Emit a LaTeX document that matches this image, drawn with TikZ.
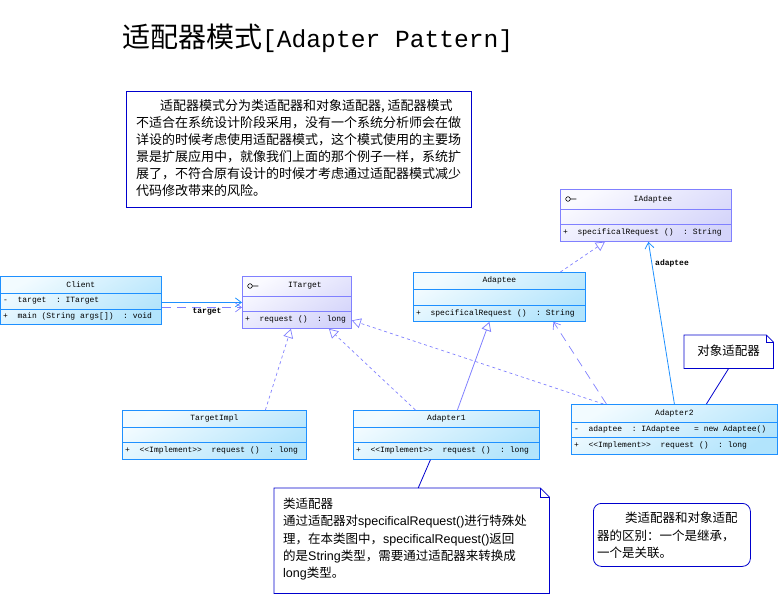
\documentclass[tikz,border=0pt]{standalone}
\usepackage{fontspec}
\setmainfont{Liberation Sans}
\setmonofont{Liberation Mono}
\newfontfamily\cjk{Noto Sans CJK SC}
\usetikzlibrary{arrows.meta}

\definecolor{clsblue}{RGB}{30,144,255}
\definecolor{clstop}{RGB}{242,251,255}
\definecolor{clsbot}{RGB}{178,228,252}
\definecolor{ifcline}{RGB}{128,128,255}
\definecolor{ifctop}{RGB}{250,250,255}
\definecolor{ifcbot}{RGB}{212,212,250}
\definecolor{noteblue}{RGB}{0,0,205}

\begin{document}
\begin{tikzpicture}[x=1pt,y=-1pt,
  clsbox/.style={draw=clsblue, line width=0.8pt, top color=clstop, bottom color=clsbot, shading angle=30, anchor=north west, inner sep=0pt},
  ifcbox/.style={draw=ifcline, line width=0.8pt, top color=ifctop, bottom color=ifcbot, shading angle=30, anchor=north west, inner sep=0pt},
  clssep/.style={draw=clsblue, line width=0.8pt},
  ifcsep/.style={draw=ifcline, line width=0.8pt},
  hdr/.style={font=\ttfamily\fontsize{8}{9}\selectfont, inner sep=0pt},
  memb/.style={font=\ttfamily\fontsize{8}{9}\selectfont, inner sep=0pt, anchor=west},
  role/.style={font=\ttfamily\bfseries\fontsize{8}{9}\selectfont, inner sep=0pt},
  notebox/.style={anchor=north west, inner sep=0pt},
  noteline/.style={draw=noteblue, line width=0.8pt},
  notetext/.style={font=\fontsize{12.5}{17.3}\selectfont, align=left, inner sep=0pt, anchor=north west},
  real/.style={draw=ifcline, line width=0.7pt, dash pattern=on 3pt off 3pt, -{Triangle[open, length=9pt, width=10pt]}},
  gener/.style={draw=ifcline, line width=0.8pt, -{Triangle[open, length=9pt, width=10pt]}},
  assoc/.style={draw=clsblue, line width=0.8pt, -{Straight Barb[length=6pt, width=9pt]}},
  depend/.style={draw=ifcline, line width=0.7pt, dash pattern=on 9pt off 6pt, -{Straight Barb[length=6pt, width=9pt]}},
  notelink/.style={draw=noteblue, line width=0.8pt}]
\useasboundingbox (0,0) rectangle (778,596);

% title
\node[anchor=west, inner sep=0pt] (title) at (122,38) {{\cjk\fontsize{28}{30}\selectfont 适配器模式}{\ttfamily\fontsize{24.6}{30}\selectfont[Adapter Pattern]}};

% top note
\node[notebox, draw=noteblue, line width=0.8pt, minimum width=345pt, minimum height=116pt] (topnote) at (126,91) {};
\node[notetext, font=\cjk\fontsize{13}{17}\selectfont] (topnote-t) at ([xshift=10pt,yshift=-8pt]topnote.north west)
  {\hspace*{24pt}适配器模式分为类适配器和对象适配器, 适配器模式\\
   不适合在系统设计阶段采用，没有一个系统分析师会在做\\
   详设的时候考虑使用适配器模式，这个模式使用的主要场\\
   景是扩展应用中，就像我们上面的那个例子一样，系统扩\\
   展了，不符合原有设计的时候才考虑通过适配器模式减少\\
   代码修改带来的风险。};

% Client
\node[clsbox, minimum width=161pt, minimum height=48pt] (client) at (0,276) {};
\draw[clssep] ([yshift=-17pt]client.north west) -- ([yshift=-17pt]client.north east);
\draw[clssep] ([yshift=-33pt]client.north west) -- ([yshift=-33pt]client.north east);
\node[hdr] (client-n) at ([yshift=-8.5pt]client.north) {Client};
\node[memb] (client-a) at ([xshift=3pt,yshift=-25pt]client.north west) {-~~target~~:~ITarget};
\node[memb] (client-o) at ([xshift=3pt,yshift=-40.5pt]client.north west) {+~~main~(String~args[])~~:~void};

% ITarget
\node[ifcbox, minimum width=109pt, minimum height=52pt] (itarget) at (242,276) {};
\draw[ifcsep] ([yshift=-20pt]itarget.north west) -- ([yshift=-20pt]itarget.north east);
\draw[ifcsep] ([yshift=-35pt]itarget.north west) -- ([yshift=-35pt]itarget.north east);
\draw[line width=0.6pt] ([xshift=8pt,yshift=-10pt]itarget.north west) circle (2.3pt) ++(2.3pt,0) -- ++(6pt,0);
\node[hdr] (itarget-n) at ([xshift=8pt,yshift=-10pt]itarget.north) {ITarget};
\node[memb] (itarget-o) at ([xshift=3pt,yshift=-43.5pt]itarget.north west) {+~~request~()~~:~long};

% IAdaptee
\node[ifcbox, minimum width=171pt, minimum height=52pt] (iadaptee) at (560,189) {};
\draw[ifcsep] ([yshift=-20pt]iadaptee.north west) -- ([yshift=-20pt]iadaptee.north east);
\draw[ifcsep] ([yshift=-35pt]iadaptee.north west) -- ([yshift=-35pt]iadaptee.north east);
\draw[line width=0.6pt] ([xshift=8pt,yshift=-10pt]iadaptee.north west) circle (2.3pt) ++(2.3pt,0) -- ++(6pt,0);
\node[hdr] (iadaptee-n) at ([xshift=7pt,yshift=-10pt]iadaptee.north) {IAdaptee};
\node[memb] (iadaptee-o) at ([xshift=3pt,yshift=-43.5pt]iadaptee.north west) {+~~specificalRequest~()~~:~String};

% Adaptee
\node[clsbox, minimum width=172pt, minimum height=49pt] (adaptee) at (413,272) {};
\draw[clssep] ([yshift=-17pt]adaptee.north west) -- ([yshift=-17pt]adaptee.north east);
\draw[clssep] ([yshift=-33pt]adaptee.north west) -- ([yshift=-33pt]adaptee.north east);
\node[hdr] (adaptee-n) at ([yshift=-8.5pt]adaptee.north) {Adaptee};
\node[memb] (adaptee-o) at ([xshift=3pt,yshift=-41pt]adaptee.north west) {+~~specificalRequest~()~~:~String};

% TargetImpl
\node[clsbox, minimum width=184pt, minimum height=49pt] (timpl) at (122,410) {};
\draw[clssep] ([yshift=-17pt]timpl.north west) -- ([yshift=-17pt]timpl.north east);
\draw[clssep] ([yshift=-32pt]timpl.north west) -- ([yshift=-32pt]timpl.north east);
\node[hdr] (timpl-n) at ([yshift=-8.5pt]timpl.north) {TargetImpl};
\node[memb] (timpl-o) at ([xshift=3pt,yshift=-40.5pt]timpl.north west) {+~~<<Implement>>~~request~()~~:~long};

% Adapter1
\node[clsbox, minimum width=186pt, minimum height=49pt] (adapter1) at (353,410) {};
\draw[clssep] ([yshift=-17pt]adapter1.north west) -- ([yshift=-17pt]adapter1.north east);
\draw[clssep] ([yshift=-32pt]adapter1.north west) -- ([yshift=-32pt]adapter1.north east);
\node[hdr] (adapter1-n) at ([yshift=-8.5pt]adapter1.north) {Adapter1};
\node[memb] (adapter1-o) at ([xshift=3pt,yshift=-40.5pt]adapter1.north west) {+~~<<Implement>>~~request~()~~:~long};

% Adapter2
\node[clsbox, minimum width=206pt, minimum height=50pt] (adapter2) at (571,404) {};
\draw[clssep] ([yshift=-18pt]adapter2.north west) -- ([yshift=-18pt]adapter2.north east);
\draw[clssep] ([yshift=-33pt]adapter2.north west) -- ([yshift=-33pt]adapter2.north east);
\node[hdr] (adapter2-n) at ([yshift=-9pt]adapter2.north) {Adapter2};
\node[memb] (adapter2-a) at ([xshift=3pt,yshift=-25.5pt]adapter2.north west) {-~~adaptee~~:~IAdaptee~~~=~new~Adaptee()};
\node[memb] (adapter2-o) at ([xshift=3pt,yshift=-41.5pt]adapter2.north west) {+~~<<Implement>>~~request~()~~:~long};

% notes
\node[notebox, minimum width=89pt, minimum height=33pt] (objnote) at (684,335) {};
\draw[noteline] (objnote.north west) -- ([xshift=-7pt]objnote.north east) -- ([yshift=-7pt]objnote.north east) -- (objnote.south east) -- (objnote.south west) -- cycle;
\draw[noteline, line width=0.5pt] ([xshift=-7pt]objnote.north east) -- ([xshift=-7pt,yshift=-7pt]objnote.north east) -- ([yshift=-7pt]objnote.north east);
\node[inner sep=0pt, font=\cjk\fontsize{12.5}{15}\selectfont] (objnote-t) at ([yshift=1pt]objnote.center) {对象适配器};

\node[notebox, minimum width=275pt, minimum height=105pt] (clsnote) at (274,488) {};
\draw[noteline] (clsnote.north west) -- ([xshift=-9pt]clsnote.north east) -- ([yshift=-9pt]clsnote.north east) -- (clsnote.south east) -- (clsnote.south west) -- cycle;
\draw[noteline, line width=0.5pt] ([xshift=-9pt]clsnote.north east) -- ([xshift=-9pt,yshift=-9pt]clsnote.north east) -- ([yshift=-9pt]clsnote.north east);
\node[notetext] (clsnote-t) at ([xshift=9pt,yshift=-10pt]clsnote.north west)
  {{\cjk 类适配器}\\
   {\cjk 通过适配器对}specificalRequest(){\cjk 进行特殊处}\\
   {\cjk 理，在本类图中，}specificalRequest(){\cjk 返回}\\
   {\cjk 的是}String{\cjk 类型，需要通过适配器来转换成}\\
   long{\cjk 类型。}};

\node[notebox, draw=noteblue, line width=0.8pt, rounded corners=8pt, minimum width=157pt, minimum height=63pt] (diffnote) at (593,503) {};
\node[notetext, font=\cjk\fontsize{12.5}{17.5}\selectfont] (diffnote-t) at ([xshift=4pt,yshift=-9pt]diffnote.north west)
  {\hspace*{28pt}类适配器和对象适配\\
   器的区别：一个是继承，\\
   一个是关联。};

% connectors
\draw[assoc] ([yshift=-2pt]client.east) -- (itarget.west);
\draw[depend] ([yshift=-7pt]client.east) -- ([yshift=-5pt]itarget.west);
\node[role] (target-l) at (207,312) {target};
\draw[real] ([xshift=51pt]timpl.north) -- ([xshift=-6pt]itarget.south);
\draw[real] ([xshift=-31pt]adapter1.north) -- ([xshift=32pt]itarget.south);
\draw[real] ([xshift=-71pt]adapter2.north) -- ([yshift=-18pt]itarget.east);
\draw[gener] ([xshift=11pt]adapter1.north) -- ([xshift=-10pt]adaptee.south);
\draw[depend] ([xshift=-68pt]adapter2.north) -- ([xshift=54pt]adaptee.south);
\draw[real] ([xshift=61pt]adaptee.north) -- ([xshift=-41pt]iadaptee.south);
\draw[assoc] (adapter2.north) -- ([xshift=2.5pt]iadaptee.south);
\node[role] (adaptee-l) at (672,263) {adaptee};
\draw[notelink] (objnote.south) -- ([xshift=32pt]adapter2.north);
\draw[notelink] ([xshift=6.5pt]clsnote.north) -- ([xshift=-16pt]adapter1.south);
\end{tikzpicture}
\end{document}
